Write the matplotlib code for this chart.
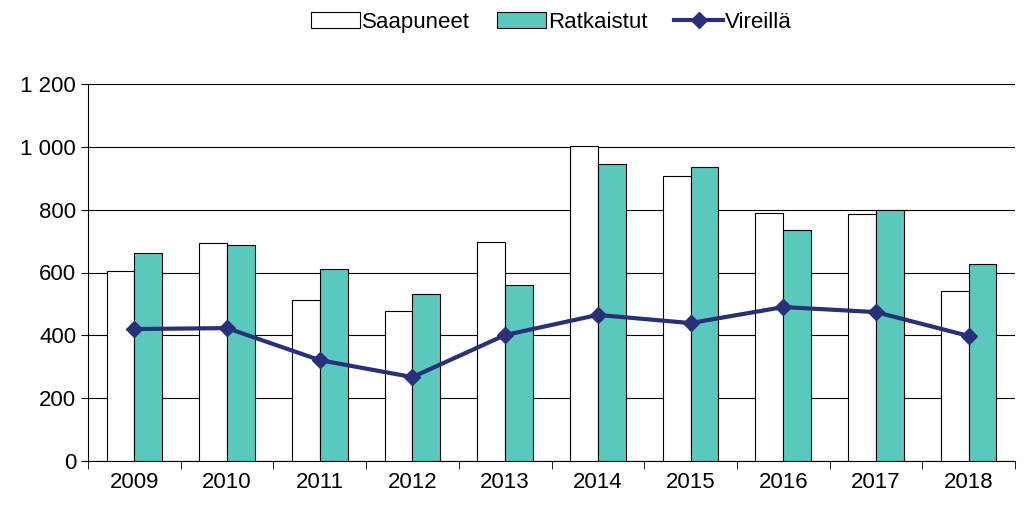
import matplotlib
matplotlib.use("Agg")
import matplotlib.pyplot as plt
import numpy as np

years = ["2009","2010","2011","2012","2013","2014","2015","2016","2017","2018"]
saapuneet = [605, 694, 512, 477, 697, 1002, 907, 789, 786, 541]
ratkaistut = [662, 687, 611, 531, 560, 945, 936, 735, 799, 627]
vireilla = [420, 423, 321, 267, 401, 465, 439, 490, 474, 398]

plt.rcParams["font.family"] = "Liberation Sans"
fig = plt.figure(figsize=(10.24, 5.29), dpi=100)
ax = fig.add_axes([88/1024, 1-461/529, (1015-88)/1024, (461-84)/529])
x = np.arange(len(years))
w = 0.3
b1 = ax.bar(x - w/2, saapuneet, w, color="white", edgecolor="black", linewidth=0.8, label="Saapuneet", zorder=3)
b2 = ax.bar(x + w/2, ratkaistut, w, color="#5BC8BE", edgecolor="black", linewidth=0.8, label="Ratkaistut", zorder=3)
l1, = ax.plot(x, vireilla, color="#283078", marker="D", markersize=8, linewidth=3, label="Vireillä", zorder=4)
ax.set_ylim(0, 1200)
ax.set_xlim(-0.5, len(years)-0.5)
ax.set_yticks(range(0, 1201, 200))
ax.set_yticklabels([f"{v:,}".replace(",", " ") for v in range(0, 1201, 200)], fontsize=16)
ax.yaxis.grid(True, color="black", linewidth=0.8, zorder=0)
ax.set_xticks(x)
ax.set_xticklabels(years, fontsize=16)
ax.set_xticks(np.arange(-0.5, len(years), 1), minor=True)
ax.tick_params(axis="x", which="major", length=0, pad=8)
ax.tick_params(axis="x", which="minor", length=6, direction="out")
ax.tick_params(axis="y", length=5, direction="out")
for s in ["top", "right"]:
    ax.spines[s].set_visible(False)
ax.legend([b1, b2, l1], ["Saapuneet", "Ratkaistut", "Vireillä"], loc="upper center",
          bbox_to_anchor=(0.5, 1.245), ncol=3, frameon=False, fontsize=16,
          handlelength=2.2, handletextpad=0.1, columnspacing=1.2)
fig.savefig("out.png", dpi=100)
